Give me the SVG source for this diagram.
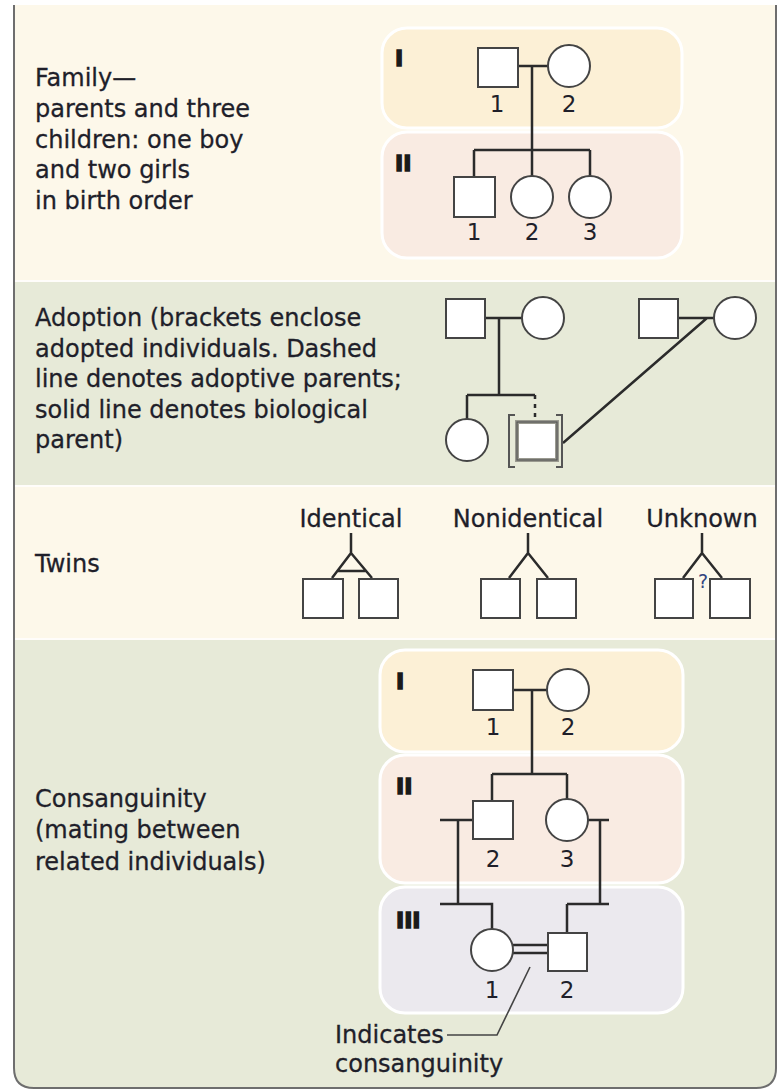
<svg xmlns="http://www.w3.org/2000/svg" width="779" height="1091" viewBox="0 0 779 1091">
<style>
.txt{font-family:'DejaVu Sans',sans-serif;font-size:24px;fill:#1f1f2a;stroke:#1f1f2a;stroke-width:0.3}
.num{font-family:'DejaVu Sans',sans-serif;font-size:23px;fill:#1f1f2a;text-anchor:middle}
.gen{font-family:'DejaVu Sans',sans-serif;font-weight:bold;font-size:22px;fill:#1a1a1a;stroke:#1a1a1a;stroke-width:1.4}
.sym{fill:#fff;stroke:#444;stroke-width:2}
.ln{fill:none;stroke:#2b2b2b;stroke-width:2.5}
.thin{fill:none;stroke:#444;stroke-width:1.6}
.g1{fill:#fcf0d6;stroke:#fff;stroke-width:3}
.g2{fill:#f9ebe2;stroke:#fff;stroke-width:3}
.g3{fill:#ebe9ee;stroke:#fff;stroke-width:3}
</style>
<rect x="0" y="0" width="779" height="1091" fill="#fff"/>
<g id="panel">
<path d="M14 5 V1068 Q14 1088 34 1088 H756 Q776 1088 776 1068 V5 Z" fill="#fdf8ea"/>
<rect x="14" y="282" width="762" height="203" fill="#e7ead8"/>
<path d="M14 640 H776 V1068 Q776 1088 756 1088 H34 Q14 1088 14 1068 Z" fill="#e7ead8"/>
<line x1="14" y1="281" x2="776" y2="281" stroke="#fff" stroke-width="1.5"/>
<line x1="14" y1="486" x2="776" y2="486" stroke="#fff" stroke-width="1.5"/>
<line x1="14" y1="639" x2="776" y2="639" stroke="#fff" stroke-width="1.5"/>
<path d="M14 5 V1068 Q14 1088 34 1088 H756 Q776 1088 776 1068 V5" fill="none" stroke="#6e6e6e" stroke-width="2"/>
</g>

<!-- generation bands -->
<g id="family-gen1"><rect class="g1" x="382" y="28" width="300" height="100" rx="25"/><text class="gen" x="395" y="66">I</text></g>
<g id="family-gen2"><rect class="g2" x="382" y="132" width="300" height="126" rx="25"/><text class="gen" x="395" y="171">II</text></g>
<g id="cons-gen1"><rect class="g1" x="380" y="650" width="303" height="102" rx="25"/><text class="gen" x="396" y="689">I</text></g>
<g id="cons-gen2"><rect class="g2" x="380" y="755" width="303" height="128" rx="25"/><text class="gen" x="396" y="794">II</text></g>
<g id="cons-gen3"><rect class="g3" x="380" y="887" width="303" height="126" rx="25"/><text class="gen" x="396" y="928">III</text></g>

<!-- section labels -->
<g id="family-label">
<text class="txt" x="35" y="86">Family—</text>
<text class="txt" x="35" y="117">parents and three</text>
<text class="txt" x="35" y="148">children: one boy</text>
<text class="txt" x="35" y="178">and two girls</text>
<text class="txt" x="35" y="209">in birth order</text>
</g>
<g id="adoption-label">
<text class="txt" x="35" y="326">Adoption (brackets enclose</text>
<text class="txt" x="35" y="357">adopted individuals. Dashed</text>
<text class="txt" x="35" y="387">line denotes adoptive parents;</text>
<text class="txt" x="35" y="418">solid line denotes biological</text>
<text class="txt" x="35" y="448">parent)</text>
</g>
<g id="twins-label"><text class="txt" x="35" y="572">Twins</text></g>
<g id="consanguinity-label">
<text class="txt" x="35" y="807">Consanguinity</text>
<text class="txt" x="35" y="838">(mating between</text>
<text class="txt" x="35" y="870">related individuals)</text>
</g>

<g id="connectors">
<path class="ln" d="M518 66 H548 M532 66 V150 M474 150 H590 M474 150 V177 M532 150 V176 M590 150 V176"/>
<path class="ln" d="M485 318 H522 M499 318 V395 M467 395 H535 M467 395 V419"/>
<path class="ln" d="M535 395 V422" stroke-dasharray="4 5"/>
<path class="ln" d="M678 318 H714 M707 318 L563 443"/>
<path class="ln" d="M351 533 V553 L332 578 M351 553 L372 578 M338 571 H366"/>
<path class="ln" d="M528 533 V553 L509 578 M528 553 L548 578"/>
<path class="ln" d="M702 533 V553 L683 578 M702 553 L722 578"/>
<path class="ln" d="M513 690 H547 M532 690 V774 M492 774 H567 M492 774 V801 M567 774 V799"/>
<path class="ln" d="M440 820 H473 M458 820 V904 M440 904 H492 V930"/>
<path class="ln" d="M588 820 H609 M600 820 V904 M567 904 H609 M567 904 V933"/>
<path class="ln" d="M513 945 H548 M513 953 H548" stroke-width="2.2"/>
<path class="thin" d="M530 967 L497 1035 H447"/>
</g>

<g id="fam-I-1"><rect class="sym" x="478" y="48" width="40" height="39"/><text class="num" x="497" y="112">1</text></g>
<g id="fam-I-2"><circle class="sym" cx="569" cy="66" r="21"/><text class="num" x="569" y="112">2</text></g>
<g id="fam-II-1"><rect class="sym" x="454" y="177" width="41" height="40"/><text class="num" x="474" y="240">1</text></g>
<g id="fam-II-2"><circle class="sym" cx="532" cy="197" r="21"/><text class="num" x="532" y="240">2</text></g>
<g id="fam-II-3"><circle class="sym" cx="590" cy="197" r="21"/><text class="num" x="590" y="240">3</text></g>

<g id="adopt-father"><rect class="sym" x="446" y="299" width="39" height="39"/></g>
<g id="adopt-mother"><circle class="sym" cx="543" cy="318" r="21"/></g>
<g id="adopt-sister"><circle class="sym" cx="467" cy="440" r="21"/></g>
<g id="adopt-child">
<rect x="517" y="422" width="40" height="38" fill="#fff" stroke="#9a9a90" stroke-width="4"/>
<rect x="517" y="422" width="40" height="38" fill="none" stroke="#555" stroke-width="1.2"/>
<path d="M515 415 H509 V467 H515 M556 415 H562 V467 H556" fill="none" stroke="#555" stroke-width="2"/>
</g>
<g id="bio-father"><rect class="sym" x="639" y="299" width="39" height="39"/></g>
<g id="bio-mother"><circle class="sym" cx="735" cy="318" r="21"/></g>

<g id="twins-identical">
<text class="txt" x="351" y="527" text-anchor="middle">Identical</text>
<rect class="sym" x="303" y="579" width="40" height="39"/>
<rect class="sym" x="359" y="579" width="39" height="39"/>
</g>
<g id="twins-nonidentical">
<text class="txt" x="528" y="527" text-anchor="middle">Nonidentical</text>
<rect class="sym" x="481" y="579" width="39" height="39"/>
<rect class="sym" x="537" y="579" width="39" height="39"/>
</g>
<g id="twins-unknown">
<text class="txt" x="702" y="527" text-anchor="middle">Unknown</text>
<rect class="sym" x="655" y="579" width="38" height="39"/>
<rect class="sym" x="710" y="579" width="40" height="39"/>
<text x="703" y="588" text-anchor="middle" font-family="'DejaVu Sans',sans-serif" font-size="19" fill="#34457f">?</text>
</g>

<g id="cons-I-1"><rect class="sym" x="473" y="670" width="40" height="40"/><text class="num" x="493" y="735">1</text></g>
<g id="cons-I-2"><circle class="sym" cx="568" cy="690" r="21"/><text class="num" x="568" y="735">2</text></g>
<g id="cons-II-2"><rect class="sym" x="473" y="801" width="40" height="38"/><text class="num" x="493" y="867">2</text></g>
<g id="cons-II-3"><circle class="sym" cx="567" cy="820" r="21"/><text class="num" x="567" y="867">3</text></g>
<g id="cons-III-1"><circle class="sym" cx="492" cy="950" r="21"/><text class="num" x="492" y="998">1</text></g>
<g id="cons-III-2"><rect class="sym" x="548" y="933" width="39" height="38"/><text class="num" x="567" y="998">2</text></g>
<g id="consanguinity-note">
<text class="txt" x="335" y="1043">Indicates</text>
<text class="txt" x="335" y="1072">consanguinity</text>
</g>
</svg>
